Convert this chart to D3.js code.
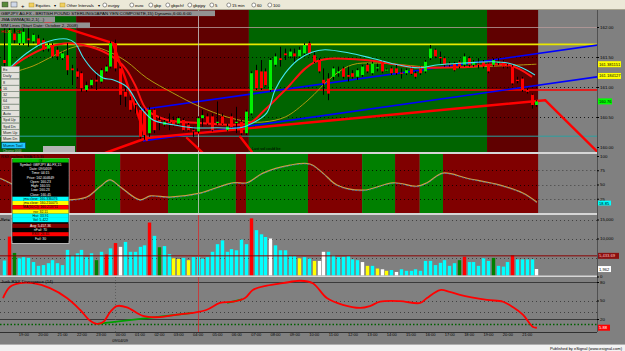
<!DOCTYPE html>
<html><head><meta charset="utf-8">
<script src="https://cdn.jsdelivr.net/npm/d3@7/dist/d3.min.js"></script>
<style>
html,body{margin:0;padding:0;background:#808080;overflow:hidden}
svg{display:block;font-family:"Liberation Sans",Arial,sans-serif}
</style></head><body>
<svg id="chart" width="625" height="351"></svg>
<script>
// ================= DATA =================
const open = [161.45,161.31,161.89,161.73,161.73,161.81,161.76,161.81,161.78,161.64,
161.70,161.62,161.48,161.53,161.31,161.26,161.23,160.95,161.03,161.12,
161.09,161.26,161.34,161.73,161.31,160.92,160.78,160.73,160.62,160.59,
160.23,160.62,160.45,160.37,160.42,160.45,160.39,160.45,160.37,160.28,
160.26,160.48,160.51,160.51,160.40,160.51,160.28,160.51,160.40,160.42,
160.23,160.56,161.28,161.26,161.26,160.95,161.37,161.48,161.56,161.51,
161.56,161.51,161.56,161.73,161.53,161.45,161.12,161.14,161.17,161.23,
161.31,161.20,161.23,161.17,161.20,161.37,161.23,161.31,161.42,161.28,
161.31,161.31,161.24,161.23,161.31,161.23,161.31,161.26,161.48,161.62,
161.50,161.48,161.39,161.39,161.42,161.37,161.48,161.37,161.39,161.42,
161.39,161.37,161.40,161.42,161.36,161.34,161.12,161.14,160.95,160.87,
160.70];
const high = [161.98,161.98,161.98,161.95,162.03,162.01,161.89,161.87,161.81,161.73,
161.73,161.67,161.59,161.73,161.37,161.31,161.26,161.09,161.14,161.26,
161.31,161.37,161.76,161.79,161.34,161.01,160.84,160.81,160.70,160.64,
160.67,160.64,160.51,160.45,160.56,160.51,160.51,160.48,160.40,160.34,
160.51,160.62,160.56,160.56,160.76,160.56,160.39,160.56,160.67,160.45,
160.62,161.26,161.37,161.45,161.31,161.48,161.56,161.67,161.64,161.64,
161.64,161.67,161.73,161.76,161.59,161.48,161.31,161.23,161.34,161.34,
161.34,161.34,161.28,161.31,161.37,161.40,161.42,161.39,161.45,161.31,
161.34,161.37,161.31,161.31,161.34,161.26,161.34,161.45,161.70,161.64,
161.59,161.51,161.42,161.42,161.45,161.56,161.51,161.45,161.48,161.45,
161.42,161.48,161.48,161.45,161.39,161.37,161.17,161.17,160.98,160.89,
160.78];
const low = [161.31,161.28,161.73,161.70,161.70,161.67,161.73,161.67,161.59,161.59,
161.48,161.45,161.45,161.20,161.03,161.14,160.92,160.92,160.98,160.95,
161.06,161.23,161.31,161.26,160.70,160.67,160.59,160.56,160.14,160.12,
160.17,160.23,160.28,160.34,160.28,160.34,160.37,160.26,160.26,160.17,
160.23,160.34,160.37,160.26,160.37,160.37,160.26,160.31,160.23,160.20,
160.20,160.53,160.95,160.95,161.01,160.92,161.34,161.34,161.45,161.48,
161.39,161.48,161.53,161.53,161.40,161.23,160.87,160.78,161.12,161.17,
161.14,161.09,161.14,161.12,161.17,161.23,161.20,161.26,161.23,161.26,
161.20,161.20,161.14,161.20,161.20,161.14,161.20,161.23,161.45,161.48,
161.39,161.34,161.34,161.26,161.31,161.34,161.34,161.34,161.31,161.31,
161.23,161.34,161.37,161.31,161.31,161.03,161.06,160.92,160.89,160.64,
160.67];
const close = [161.40,161.95,161.78,161.89,161.92,161.78,161.87,161.70,161.62,161.70,
161.51,161.51,161.56,161.28,161.28,161.17,160.98,161.03,161.12,161.09,
161.28,161.34,161.73,161.31,160.87,160.84,160.62,160.70,160.17,160.20,
160.62,160.28,160.42,160.42,160.40,160.37,160.48,160.28,160.28,160.26,
160.48,160.53,160.39,160.28,160.42,160.39,160.34,160.33,160.42,160.23,
160.59,161.23,160.98,160.98,161.03,161.45,161.51,161.45,161.53,161.59,
161.51,161.62,161.70,161.56,161.42,161.26,161.06,160.89,161.31,161.26,
161.17,161.17,161.17,161.28,161.34,161.26,161.39,161.33,161.26,161.29,
161.23,161.23,161.22,161.28,161.22,161.17,161.23,161.42,161.64,161.51,
161.48,161.37,161.37,161.28,161.34,161.51,161.37,161.42,161.37,161.34,
161.26,161.45,161.42,161.34,161.34,161.06,161.10,160.95,160.92,160.70,
160.76];

const volume = [4200,10500,6200,4800,5100,4900,3800,2800,3000,3500,
4300,3500,3000,7000,5600,6100,7000,5100,6100,4300,
6500,5800,7400,8800,7800,9100,6500,6500,7800,8200,
14200,10700,7700,8000,5900,4800,4600,4900,4300,5100,
5200,4700,5100,6500,8500,9500,6500,7200,6900,9700,
8500,15300,12200,11100,10400,10000,8200,6900,6900,5400,
5400,4800,5100,4700,4100,4100,6500,6500,5600,5100,
5200,5400,4500,4300,3800,2800,2800,2100,1900,1500,
1700,1200,1900,1500,1500,1900,1500,4100,4100,3000,
3600,4300,2800,3500,4300,5200,3800,3800,2800,4800,
4100,4900,2800,2600,3800,5600,4500,4500,4500,4500,
1962];
const volumeClass = ("crgccccccc"+"cccccccccg"+"crcrwccccc"+"rcgccyycyc"+"cccccccccc"+
  "crcccwcccc"+"cyccywwccc"+"ccccwycywy"+"cwcccccccc"+"ccccgrcccc"+"cgcccrccccw").split("");
const volumeAvg = 5433.69;

// moving averages (bar index, price)
const cyanIdx = [1.2,4.8,8.1,13.0,14.7,16.3,18.4,20.5,22.5,25.4,28.1,30.8,34.9,39.0,44.0,48.8,51.4,54.3,56.0,58.1,60.7,63.6,66.3,71.1,76.0,81.4,85.5,89.7,95.2,100.8,104.1,107.0,109.7];
const cyanVal = [161.32,161.57,161.73,161.80,161.73,161.50,161.28,161.15,161.12,161.00,160.67,160.45,160.37,160.32,160.32,160.32,160.40,160.57,160.95,161.23,161.45,161.58,161.62,161.57,161.48,161.37,161.32,161.37,161.40,161.42,161.40,161.32,161.20];
const redMaIdx = [0.8,4.3,8.5,13.6,17.8,21.9,25.0,27.1,29.5,33.7,40.5,47.3,50.8,53.9,58.1,64.3,74.6,84.9,95.2,104.1,109.1];
const redMaVal = [161.28,161.48,161.65,161.73,161.67,161.53,161.32,161.03,160.62,160.45,160.40,160.37,160.40,160.62,160.95,161.42,161.45,161.33,161.33,161.37,161.17];
const oliveIdx = [1.2,6.0,10.5,14.7,18.2,21.9,25.4,29.5,34.9,40.5,46.1,50.8,53.9,58.1,62.8,67.8,71.9,76.7,88.4,95.2,110.0];
const oliveVal = [161.23,161.35,161.53,161.67,161.68,161.58,161.42,161.15,160.90,160.67,160.50,160.42,160.42,160.50,160.78,161.17,161.37,161.40,161.33,161.33,161.38];

// trend / zigzag lines (bar index, price)
const zigFromIdx = [7.4,22.5,20.9,29.5,111.8,37.8,48.8];
const zigFromVal = [162.12,161.73,159.90,160.15,160.78,160.15,160.17];
const zigToIdx   = [22.5,29.5,29.5,111.8,123.5,41.1,51.2];
const zigToVal   = [161.73,160.12,160.15,160.78,159.85,159.90,159.92];
const chanFromIdx = [28.1,28.7], chanFromVal = [160.62,160.10];
const chanToIdx   = [122.7,122.7], chanToVal   = [161.70,161.17];
const levelValues = [161.71,160.95,160.18];

// background regimes
const mainSegFrom = [-2,14.9,50.6,99.8], mainSegTo = [14.9,50.6,99.8,110.4], mainSegState = ["g","r","g","r"];
const rsiSegFrom = [-2,18.8,24.0,33.9,47.9,50.0,62.8,74.0,80.8,85.9,90.7];
const rsiSegTo   = [18.8,24.0,33.9,47.9,50.0,62.8,74.0,80.8,85.9,90.7,110.4];
const rsiSegState = ["r","g","r","g","r","g","r","g","r","g","r"];

// RSX (index, value)
const rsxIdx = [-0.8,2.7,6.0,9.5,13.6,17.1,19.8,21.9,24.0,28.1,30.2,34.3,40.5,47.3,50.2,53.5,59.1,63.2,65.9,68.8,74.2,80.4,85.3,87.4,90.7,95.7,102.5,107.2,110.1];
const rsxVal = [61,46,26,23,23,28,46,58,46,23,30,28,35,53,53,70,84,86,70,49,40,53,47,53,70,61,49,35,18.85];

// Jurik RSX divergence (index, value)
const jurIdx = [-0.2,1.2,3.3,6.0,9.5,13.0,15.7,17.8,19.2,20.5,21.9,23.3,25.4,28.7,32.2,35.7,39.0,41.9,44.6,47.3,49.8,51.4,54.3,57.6,61.2,63.8,66.7,70.0,73.6,75.6,77.7,81.8,86.0,87.4,90.1,92.1,94.2,99.8,103.1,105.2,107.2,109.3,110.1];
const jurVal = [54,72,78,78,70,54,35,17,12,15,31,41,39,25,23,27,30,35,46,48,54,67,74,78,82,78,54,43,38,41,48,49,46,54,67,64,59,51,48,39,27,7,5.88];
const divFromIdx = [19.2,46.1], divFromVal = [12,46];
const divToIdx = [39.0,49.2], divToVal = [30,52];

// axes / labels
const timeLabels = ["19:00","20:00","21:00","22:00","23:00","00:00","01:00","02:00","03:00","04:00","05:00","06:00","07:00","08:00","09:00","10:00","11:00","12:00","13:00","14:00","15:00","16:00","17:00","18:00","19:00","20:00","21:00"];
const timeLabelIdx = [4,8,12,16,20,24,28,32,36,40,44,48,52,56,60,64,68,72,76,80,84,88,92,96,100,104,108];
const dateLabel = "09/04/09", dateIdx = 24, sessionIdx = 23;
const priceTicks = [160,160.5,161,161.5,162];
const rsiTicks = [25,50,75,100];
const volTicks = [0,10000,15000];
const jurTicks = [20,50,80];
const cursorIdx = 40, cursorPrice = 162.004649;

const titleLines = ["GBPJPY A0-FX - BRITISH POUND STERLING/JAPAN YEN COMPOSITE,15) Dynamic,6:00-6:00","JMA 0WMA(30,2,1(...)","MM Lines (Start Date: October 2, 2008)"];
const menuItems = ["Ex","Daily","8","16","32","64","128","Auto","Spd Up","Spd Dn","Mom Up","Mom Dn"];
const toolbarItems = ["eurjpy","euro","gbp","gbpchf","gbpjpy","5","15 min","60","100"];
const popupText = ["Of","Symbol: GBPJPY A0-FX,15","Date: 09/04/09","Time: 04:15","Price: 162.004649","Open: 160.23","High: 160.55","Low: 160.23","Close: 160.45","jma close: 160.336076","jma close: 160.210075","MA(50,Cl): 160.213711","rsx: 32.11","Hist: 33.91","Vol: 5,422","Avg: 5,457.36","nFail: 70","RSX: 26.65","Fail: 30"];
const popupBg = ["#00c000","#000","#000","#000","#000","#000","#000","#000","#000","#00ffff","#ffff00","#ff0000","#ffff00","#00ffff","#00ffff","#800000","#000","#ff0000","#000"];

// ================= DRAW =================
const svg = d3.select("#chart");
const PW = 597;
const x = d3.scaleLinear().domain([0,110]).range([4,536.4]);
const yP = d3.scaleLinear().domain([160,162]).range([147,27]);
const yR = d3.scaleLinear().domain([0,100]).range([213,156]);
const yV = d3.scaleLinear().domain([0,15000]).range([276.5,219.5]);
const yJ = d3.scaleLinear().domain([20,80]).range([319,282]);
const FONT = "Liberation Sans, Arial, sans-serif";
const crisp = v => Math.round(v)+0.5;
const xF = x(110.4);

svg.append("rect").attr("width",625).attr("height",351).attr("fill","#808080");
const defs = svg.append("defs");
function panel(id,y0,y1){
  defs.append("clipPath").attr("id",id).append("rect").attr("x",0).attr("y",y0).attr("width",PW).attr("height",y1-y0);
  return svg.append("g").attr("clip-path",`url(#${id})`);
}
const gM = panel("cm",10,152), gR = panel("cr",154,213), gV = panel("cv",215,275.5), gJ = panel("cj",277,332);

function segs(g,from,to,state,cmap,y0,y1){
  g.selectAll(null).data(from.map((f,i)=>({f,t:to[i],s:state[i]}))).join("rect")
   .attr("x",d=>x(d.f)).attr("width",d=>x(d.t)-x(d.f)).attr("y",y0).attr("height",y1-y0)
   .attr("fill",d=>cmap[d.s]);
}
function hgrid(g,vals,scale,color,dash,w,x0){
  g.selectAll(null).data(vals).join("line").attr("x1",x0||0).attr("x2",PW)
   .attr("y1",d=>crisp(scale(d))).attr("y2",d=>crisp(scale(d)))
   .attr("stroke",color).attr("stroke-width",w||1).attr("stroke-dasharray",dash);
}
const pts = (a,b)=>a.map((v,i)=>[v,b[i]]);
const lineP = d3.line().x(d=>x(d[0])).y(d=>yP(d[1])).curve(d3.curveCatmullRom.alpha(0.5));
const levelColors = ["#e8e800","#ff0000","#2aa0a0"], levelWidths=[1.6,1.6,1];
function levels(g){
  g.selectAll(null).data(levelValues).join("line").attr("x1",0).attr("x2",PW)
   .attr("y1",d=>yP(d)).attr("y2",d=>yP(d)).attr("stroke",(d,i)=>levelColors[i]).attr("stroke-width",(d,i)=>levelWidths[i]);
}
function channel(g){
  g.selectAll(null).data(chanFromIdx.map((v,i)=>i)).join("line")
   .attr("x1",i=>x(chanFromIdx[i])).attr("y1",i=>yP(chanFromVal[i])).attr("x2",i=>x(chanToIdx[i])).attr("y2",i=>yP(chanToVal[i]))
   .attr("stroke","#0000ff").attr("stroke-width",1.6);
}
function zig(g,which){
  g.selectAll(null).data(which).join("line")
   .attr("x1",i=>x(zigFromIdx[i])).attr("y1",i=>yP(zigFromVal[i])).attr("x2",i=>x(zigToIdx[i])).attr("y2",i=>yP(zigToVal[i]))
   .attr("stroke","#ff0000").attr("stroke-width",2.4).attr("stroke-linecap","round");
}

// ---- main panel ----
segs(gM,mainSegFrom,mainSegTo,mainSegState,{g:"#006400",r:"#600000"},10,152);
// gray area to the right of the last bar
gM.append("rect").attr("x",xF).attr("y",10).attr("width",PW-xF).attr("height",142).attr("fill","#808080");
hgrid(gM,[160.5,161,161.5],yP,"#000","1,3",0.8);
gM.append("line").attr("x1",0).attr("x2",PW).attr("y1",crisp(yP(cursorPrice))).attr("y2",crisp(yP(cursorPrice))).attr("stroke","#b89a9a").attr("stroke-width",0.8);
levels(gM);
channel(gM);
gM.append("path").attr("d",lineP(pts(oliveIdx,oliveVal))).attr("fill","none").attr("stroke","#b09a10").attr("stroke-width",1);
gM.append("path").attr("d",lineP(pts(redMaIdx,redMaVal))).attr("fill","none").attr("stroke","#ff1010").attr("stroke-width",2);
gM.append("line").attr("x1",crisp(x(cursorIdx))).attr("x2",crisp(x(cursorIdx))).attr("y1",10).attr("y2",152).attr("stroke","#c8c8c8").attr("stroke-width",0.8);
zig(gM,d3.range(zigFromIdx.length));
const candles = open.map((o,i)=>({i,o,h:high[i],l:low[i],c:close[i]}));
gM.selectAll(null).data(candles).join("line")
  .attr("x1",d=>crisp(x(d.i))).attr("x2",d=>crisp(x(d.i))).attr("y1",d=>yP(d.h)).attr("y2",d=>yP(d.l))
  .attr("stroke","#000").attr("stroke-width",1);
gM.selectAll(null).data(candles).join("rect")
  .attr("x",d=>crisp(x(d.i))-1.5).attr("width",3)
  .attr("y",d=>yP(Math.max(d.o,d.c))).attr("height",d=>Math.max(1,Math.abs(yP(d.o)-yP(d.c))))
  .attr("fill",d=>d.c>=d.o?"#00f000":"#ff0000");
gM.append("path").attr("d",lineP(pts(cyanIdx,cyanVal))).attr("fill","none").attr("stroke","#40e8f0").attr("stroke-width",1.1);

// title text rows
const titleW = [215,55,90];
titleLines.forEach((t,i)=>{
  gM.append("rect").attr("x",0).attr("y",10.5+i*6).attr("width",titleW[i]).attr("height",5.6).attr("fill","#939393");
  gM.append("text").attr("x",1).attr("y",15.2+i*6).text(t).attr("font-size",4.4).attr("font-family",FONT).attr("fill","#000");
});
gM.append("text").attr("x",1).attr("y",33.2).text("HLX1 , Clr").attr("font-size",4.4).attr("font-family",FONT).attr("fill","#ff0000");
gM.append("text").attr("x",252).attr("y",150).text("Last vol could be").attr("font-size",3.8).attr("font-family",FONT).attr("fill","#000");
gM.append("rect").attr("x",43).attr("y",146).attr("width",32).attr("height",6).attr("fill","#b4b4b4");
// left button menu
menuItems.forEach((t,i)=>{
  const y0 = 66.5+i*6.3;
  gM.append("rect").attr("x",1.5).attr("y",y0).attr("width",18).attr("height",6).attr("fill","#e4e2dc").attr("stroke","#8a8a8a").attr("stroke-width",0.5);
  gM.append("text").attr("x",3).attr("y",y0+4.4).text(t).attr("font-size",3.8).attr("font-family",FONT).attr("fill","#222");
});
gM.append("rect").attr("x",1.5).attr("y",142.5).attr("width",24).attr("height",6).attr("fill","#20c8ff").attr("stroke","#004060").attr("stroke-width",0.6);
gM.append("text").attr("x",3).attr("y",147).text("Mumm Tool").attr("font-size",3.8).attr("font-family",FONT).attr("fill","#002030");
gM.append("text").attr("x",3).attr("y",151.5).text("Cleanse 0000").attr("font-size",3).attr("font-family",FONT).attr("fill","#c0c0c0");

// ---- RSX panel ----
segs(gR,rsiSegFrom,rsiSegTo,rsiSegState,{g:"#008000",r:"#800000"},154,213);
hgrid(gR,[25,50,75],yR,"#000","1,3",0.8);
gR.append("line").attr("x1",crisp(x(cursorIdx))).attr("x2",crisp(x(cursorIdx))).attr("y1",154).attr("y2",213).attr("stroke","#c8c8c8").attr("stroke-width",0.8);
const lineR = d3.line().x(d=>x(d[0])).y(d=>yR(d[1])).curve(d3.curveCatmullRom.alpha(0.5));
gR.append("path").attr("d",lineR(pts(rsxIdx,rsxVal))).attr("fill","none").attr("stroke","#d8a040").attr("stroke-width",1.2);
gR.append("path").attr("d",lineR(pts(rsxIdx,rsxVal))).attr("transform","translate(0,0.6)").attr("fill","none").attr("stroke","#3a80c8").attr("stroke-width",0.7).attr("stroke-dasharray","2,1.5");
gR.append("rect").attr("x",xF).attr("y",154).attr("width",PW-xF).attr("height",59).attr("fill","#808080");
hgrid(gR.append("g"),[25,50,75],yR,"#303030","1,3",0.8,xF);
gR.append("text").attr("x",1).attr("y",157.6).text("RSX trailing SMA(1,5,3)").attr("font-size",4).attr("font-family",FONT).attr("fill","#000");

// ---- volume panel ----
hgrid(gV,[5000,10000,15000],yV,"#303030","1,3",0.8);
const volColors = {c:"#00ffff",r:"#ff0000",g:"#008000",y:"#ffff00",w:"#ffffff"};
gV.selectAll(null).data(volume).join("rect")
  .attr("x",(d,i)=>crisp(x(i))-1.7).attr("width",3.4)
  .attr("y",d=>yV(d)).attr("height",d=>yV(0)-yV(d))
  .attr("fill",(d,i)=>volColors[volumeClass[i]]);
gV.append("line").attr("x1",0).attr("x2",PW).attr("y1",yV(volumeAvg)).attr("y2",yV(volumeAvg)).attr("stroke","#8a0000").attr("stroke-width",1);
gV.append("line").attr("x1",crisp(x(cursorIdx))).attr("x2",crisp(x(cursorIdx))).attr("y1",215).attr("y2",276).attr("stroke","#e02020").attr("stroke-width",0.7);
gV.append("text").attr("x",1).attr("y",221).text("Beta Volume").attr("font-size",4.4).attr("font-family",FONT).attr("fill","#000");

// ---- Jurik panel ----
hgrid(gJ,[50,31],yJ,"#303030","1,3",0.8);
hgrid(gJ,[80,20],yJ,"#3a3a3a","",1);
hgrid(gJ,[12],yJ,"#006000","1.5,2",1.4);
gJ.append("line").attr("x1",crisp(x(sessionIdx))).attr("x2",crisp(x(sessionIdx))).attr("y1",277).attr("y2",332).attr("stroke","#555").attr("stroke-dasharray","1,2").attr("stroke-width",0.8);
gJ.append("line").attr("x1",crisp(x(cursorIdx))).attr("x2",crisp(x(cursorIdx))).attr("y1",277).attr("y2",332).attr("stroke","#e02020").attr("stroke-width",0.7);
gJ.selectAll(null).data(divFromIdx.map((v,i)=>i)).join("line")
  .attr("x1",i=>x(divFromIdx[i])).attr("y1",i=>yJ(divFromVal[i])).attr("x2",i=>x(divToIdx[i])).attr("y2",i=>yJ(divToVal[i]))
  .attr("stroke","#00a000").attr("stroke-width",1.8);
const lineJ = d3.line().x(d=>x(d[0])).y(d=>yJ(d[1])).curve(d3.curveCatmullRom.alpha(0.5));
gJ.append("path").attr("d",lineJ(pts(jurIdx,jurVal))).attr("fill","none").attr("stroke","#ff0000").attr("stroke-width",1.8);
gJ.append("text").attr("x",1).attr("y",283).text("Jurik RSX Divergence (14)").attr("font-size",4.4).attr("font-family",FONT).attr("fill","#000");

// ---- separators & frame ----
[[152,2],[213,2],[275.5,1.5]].forEach(s=>svg.append("rect").attr("x",0).attr("y",s[0]).attr("width",PW).attr("height",s[1]).attr("fill","#d6d6d6"));
svg.append("line").attr("x1",PW+0.5).attr("x2",PW+0.5).attr("y1",10).attr("y2",332).attr("stroke","#505050").attr("stroke-width",1);
svg.append("line").attr("x1",0).attr("x2",PW).attr("y1",332.5).attr("y2",332.5).attr("stroke","#303030").attr("stroke-width",1);

// ---- axes ----
function styleAxis(a,fs){
  a.select(".domain").remove();
  a.selectAll("line").attr("stroke","#000");
  a.selectAll("text").attr("font-size",fs||4.4).attr("font-family",FONT).attr("fill","#000");
}
styleAxis(svg.append("g").attr("transform",`translate(${PW},0)`).call(d3.axisRight(yP).tickValues(priceTicks).tickFormat(d3.format(".2f")).tickSize(2).tickPadding(1)));
styleAxis(svg.append("g").attr("transform",`translate(${PW},0)`).call(d3.axisRight(yR).tickValues(rsiTicks).tickFormat(d3.format("d")).tickSize(2).tickPadding(1)));
styleAxis(svg.append("g").attr("transform",`translate(${PW},0)`).call(d3.axisRight(yV).tickValues(volTicks).tickFormat(d3.format(",")).tickSize(2).tickPadding(1)));
styleAxis(svg.append("g").attr("transform",`translate(${PW},0)`).call(d3.axisRight(yJ).tickValues(jurTicks).tickFormat(d3.format("d")).tickSize(2).tickPadding(1)));
styleAxis(svg.append("g").attr("transform","translate(0,332)").call(d3.axisBottom(x).tickValues(timeLabelIdx).tickFormat((d,i)=>timeLabels[i]).tickSize(0).tickPadding(1.5)),4);
svg.append("text").attr("x",x(dateIdx)).attr("y",342).attr("text-anchor","middle").text(dateLabel).attr("font-size",4).attr("font-family",FONT).attr("fill","#000");

function tag(y,text,bg,fg,w,h,dy){
  h = h||6; dy = dy||0;
  svg.append("rect").attr("x",598).attr("y",y-h/2+dy).attr("width",w).attr("height",h).attr("fill",bg);
  svg.append("text").attr("x",599).attr("y",y+1.5+dy).text(text).attr("font-size",4.1).attr("font-family",FONT).attr("fill",fg);
}
tag(yP(oliveVal[oliveVal.length-1]),"161.381151","#ffff00","#000",23);
tag(yP(161.184127),"161.184127","#ffff00","#000",23);
tag(yP(close[close.length-1]),d3.format(".2f")(close[close.length-1]),"#00ff00","#000",14);
tag(yR(rsxVal[rsxVal.length-1]),d3.format(".2f")(rsxVal[rsxVal.length-1]),"#00ffff","#000",13,4.8,0.8);
tag(yV(volumeAvg),d3.format(",.2f")(volumeAvg),"#8a1010","#ffc0c0",21);
tag(yV(volume[volume.length-1]),d3.format(",")(volume[volume.length-1]),"#ffffff","#000",13);
tag(yJ(jurVal[jurVal.length-1]),d3.format(".2f")(jurVal[jurVal.length-1]),"#ff0000","#fff",12);

// ---- popup window ----
const pg = svg.append("g");
pg.append("rect").attr("x",12).attr("y",158.4).attr("width",57).attr("height",85).attr("fill","#000").attr("stroke","#d0d0d0").attr("stroke-width",0.8);
let py = 158.4;
popupText.forEach((t,i)=>{
  const h = i===0?4.3:4.25;
  if(i===15) py += 1.5;
  pg.append("rect").attr("x",12.5).attr("y",py).attr("width",56).attr("height",h).attr("fill",popupBg[i]);
  const dark = ["#000","#800000"].includes(popupBg[i]);
  pg.append("text").attr("x",40.5).attr("y",py+3.2).attr("text-anchor","middle").text(t).attr("font-size",3.4).attr("font-family",FONT).attr("fill",dark?"#fff":"#000");
  py += h;
});

// ---- toolbar ----
svg.append("rect").attr("x",0).attr("y",0).attr("width",625).attr("height",10).attr("fill","#ece9d8");
svg.append("line").attr("x1",0).attr("x2",625).attr("y1",9.5).attr("y2",9.5).attr("stroke","#a8a490");
svg.append("rect").attr("x",2).attr("y",2).attr("width",6).attr("height",5).attr("fill","#5a8a3a").attr("stroke","#333").attr("stroke-width",0.4);
svg.append("rect").attr("x",11).attr("y",2).attr("width",6).attr("height",5).attr("fill","#d0d8e8").attr("stroke","#333").attr("stroke-width",0.4);
svg.append("text").attr("x",21).attr("y",7.5).text("+").attr("font-size",6).attr("font-family",FONT).attr("fill","#000");
[[29,"Equities",54],[60,"Other Intervals",98]].forEach(f=>{
  svg.append("rect").attr("x",f[0]).attr("y",3).attr("width",5).attr("height",4).attr("fill","#f0d060").attr("stroke","#a08020").attr("stroke-width",0.4);
  svg.append("text").attr("x",f[0]+6.5).attr("y",7.3).text(f[1]).attr("font-size",4.2).attr("font-family",FONT).attr("fill","#000");
  svg.append("text").attr("x",f[2]).attr("y",7.3).text("▾").attr("font-size",4).attr("font-family",FONT).attr("fill","#000");
});
const tbX = [103,130,149,166,188,210,227,252,268];
toolbarItems.forEach((t,i)=>{
  svg.append("circle").attr("cx",tbX[i]+1.8).attr("cy",5).attr("r",2).attr("fill","#fff").attr("stroke","#333").attr("stroke-width",0.5);
  svg.append("text").attr("x",tbX[i]+5).attr("y",7.3).text(t).attr("font-size",4.2).attr("font-family",FONT).attr("fill","#000");
});

// ---- status bar ----
svg.append("rect").attr("x",0).attr("y",344).attr("width",625).attr("height",7).attr("fill","#f2f2f2");
svg.append("line").attr("x1",0).attr("x2",625).attr("y1",344.5).attr("y2",344.5).attr("stroke","#b0b0b0");
svg.append("text").attr("x",622).attr("y",349.5).attr("text-anchor","end").text("Published by eSignal (www.esignal.com)").attr("font-size",4).attr("font-family",FONT).attr("fill","#000");
</script></body></html>
